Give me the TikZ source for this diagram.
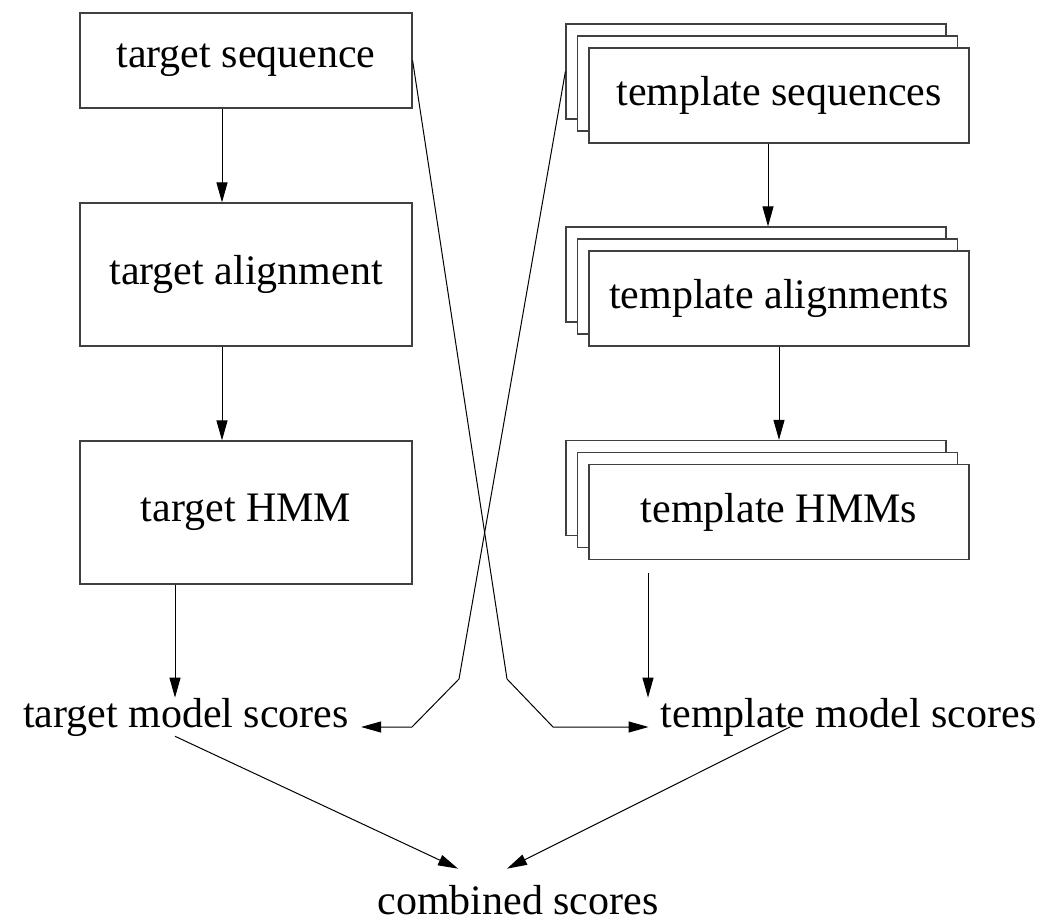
\documentclass[tikz,border=0pt]{standalone}
\usepackage{fontspec}
\setmainfont{Liberation Serif}
\usetikzlibrary{arrows.meta,calc}
\begin{document}
\begin{tikzpicture}[x=1pt,y=1pt,
  every node/.style={font=\fontsize{42}{50}\selectfont},
  box/.style={draw=black!75, line width=1.2pt, fill=white, inner sep=0pt, minimum width=332pt},
  stackbox/.style={draw=black!75, line width=1.2pt, fill=white, inner sep=0pt, minimum width=380pt, minimum height=95pt},
  lbl/.style={inner xsep=12pt, inner ysep=0pt, anchor=base},
  conn/.style={line width=1pt},
  arr/.style={conn, -{Triangle[length=20pt,width=11pt]}}
]
\useasboundingbox (0,0) rectangle (1049,922);

% left column
\node[box, minimum height=95pt]  (tseq)   at (246,861.5) {target sequence};
\node[box, minimum height=143pt] (talign) at (246,647.5) {target alignment};
\node[box, minimum height=143pt] (thmm)   at (246,409.5) {target HMM};

% right column (stacks)
\node[stackbox] (tplseqB) at (756,850.5) {};
\node[stackbox] (tplseqM) at (767.5,838.5) {};
\node[stackbox] (tplseq)  at (779,826.5) {template sequences};

\node[stackbox] (tplalignB) at (756,647.5) {};
\node[stackbox] (tplalignM) at (767.5,635.5) {};
\node[stackbox] (tplalign)  at (779,623.5) {template alignments};

\node[stackbox] (tplhmmB) at (756,434) {};
\node[stackbox] (tplhmmM) at (767.5,422) {};
\node[stackbox] (tplhmm)  at (779,410) {template HMMs};

% score labels
\node[lbl] (tms)   at (186,195) {target model scores};
\node[lbl] (tplms) at (848.5,195) {template model scores};
\node[anchor=base, inner sep=0pt] (comb) at (518,8) {combined scores};

% helper coordinates
\coordinate (xa) at (222,0);
\coordinate (xb) at (175,0);
\coordinate (xc) at (768,0);
\coordinate (xd) at (779,0);
\coordinate (xe) at (648,0);
\coordinate (xf) at (790,0);
\coordinate (xg) at (458,0);
\coordinate (xh) at (507,0);
\coordinate (k1) at (507,243);
\coordinate (k2) at (553,195);
\coordinate (k3) at (459,243);
\coordinate (k4) at (412,195);

% connectors
\draw[arr] (tseq.south -| xa) -- (talign.north -| xa);
\draw[arr] (talign.south -| xa) -- (thmm.north -| xa);
\draw[arr] (thmm.south -| xb) -- (tms.north -| xb);
\draw[arr] (tplseq.south -| xc) -- (tplalignB.north -| xc);
\draw[arr] (tplalign.south -| xd) -- (tplhmmB.north -| xd);
\draw[arr, shorten <=13pt] (tplhmm.south -| xe) -- (tplms.north -| xe);
\draw[arr] (tseq.east) -- (k1) -- (k2) -- (tplms.base west);
\draw[arr] (tplseqB.west) -- (k3) -- (k4) -- (tms.base east);
\draw[arr] (tms.south -| xb) -- ($(comb.north -| xg)+(0,16)$);
\draw[arr] (tplms.base -| xf) -- ($(comb.north -| xh)+(0,16)$);
\end{tikzpicture}
\end{document}
